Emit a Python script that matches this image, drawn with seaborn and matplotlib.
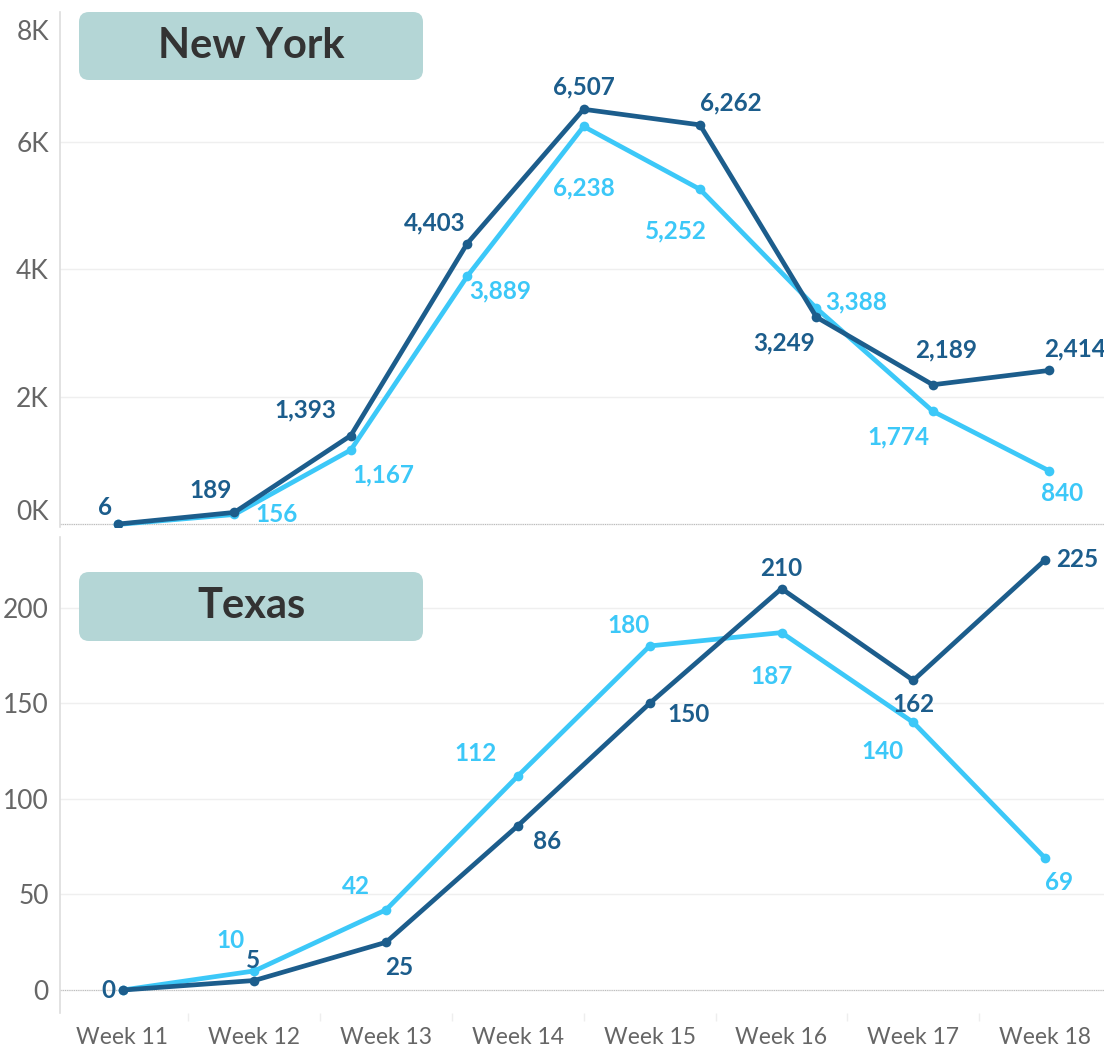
import numpy as np
import pandas as pd
import matplotlib.pyplot as plt
import matplotlib.transforms as mtransforms
import seaborn as sns
from matplotlib.patches import FancyBboxPatch
from matplotlib.ticker import FuncFormatter

# New York panel has 9 points (no week labels shown on that axis)
ny_idx = [0, 1, 2, 3, 4, 5, 6, 7, 8]
ny_dark = [6, 189, 1393, 4403, 6507, 6262, 3249, 2189, 2414]
ny_light = [0, 156, 1167, 3889, 6238, 5252, 3388, 1774, 840]

weeks = ['Week 11', 'Week 12', 'Week 13', 'Week 14', 'Week 15', 'Week 16', 'Week 17', 'Week 18']
tx_dark = [0, 5, 25, 86, 150, 210, 162, 225]
tx_light = [0, 10, 42, 112, 180, 187, 140, 69]

DARK = '#1c5d8c'
LIGHT = '#3cc8f8'

# label offsets in pixels (dx, dy up) and alignment per point
ny_dark_off = [(-6, 5, 'right', 'bottom'), (-24, 10, 'center', 'bottom'), (-15, 14, 'right', 'bottom'),
               (-2, 9, 'right', 'bottom'), (0, 11, 'center', 'bottom'), (0, 10, 'left', 'bottom'),
               (-1, -14, 'right', 'top'), (13, 23, 'center', 'bottom'), (26, 10, 'center', 'bottom')]
ny_light_off = [None, (21, 0, 'left', 'center'), (2, -13, 'left', 'top'), (2, -3, 'left', 'top'),
                (0, -50, 'center', 'top'), (-24, -30, 'center', 'top'), (9, 6, 'left', 'center'),
                (-3, -14, 'right', 'top'), (13, -11, 'center', 'top')]
tx_dark_off = [(-7, 0, 'right', 'center'), (-1, 9, 'center', 'bottom'), (-1, -14, 'left', 'top'),
               (15, -4, 'left', 'top'), (18, 0, 'left', 'top'), (0, 9, 'center', 'bottom'),
               (0, -13, 'center', 'top'), (11, 0, 'left', 'center')]
tx_light_off = [None, (-10, 19, 'right', 'bottom'), (-16, 12, 'right', 'bottom'), (-21, 11, 'right', 'bottom'),
                (-21, 9, 'center', 'bottom'), (-10, -32, 'center', 'top'), (-10, -18, 'right', 'top'),
                (14, -13, 'center', 'top')]

sns.set_style('white')
plt.rcParams['font.family'] = ['Lato', 'DejaVu Sans']

fig = plt.figure(figsize=(11.04, 10.49), dpi=100)
ax1 = fig.add_axes([60 / 1104, 1 - 527 / 1049, 1 - 60 / 1104, (527 - 12) / 1049])
ax2 = fig.add_axes([60 / 1104, 1 - 1013 / 1049, 1 - 60 / 1104, (1013 - 537) / 1049])

PX = 0.72  # points per pixel at 100 dpi


def draw(ax, x, dark, light, doff, loff, fmt):
    df = pd.DataFrame({'x': list(x) * 2, 'y': list(light) + list(dark),
                       'series': ['light'] * len(x) + ['dark'] * len(x)})
    sns.lineplot(data=df, x='x', y='y', hue='series', palette={'dark': DARK, 'light': LIGHT},
                 hue_order=['light', 'dark'], marker='o', markersize=7, markeredgewidth=0,
                 linewidth=3.4, ax=ax, legend=False, zorder=3)
    for vals, offs, col in [(light, loff, LIGHT), (dark, doff, DARK)]:
        for xi, v, o in zip(x, vals, offs):
            if o is None:
                continue
            ax.annotate(fmt(v), (xi, v), xytext=(o[0] * PX, o[1] * PX), textcoords='offset points',
                        ha=o[2], va=o[3], color=col, fontsize=17.5, fontweight='bold', zorder=5)
    ax.grid(axis='y', color='#efefef', linewidth=1)
    ax.grid(axis='x', visible=False)
    ax.axhline(0, color='#bbbbbb', linestyle=(0, (1, 1)), linewidth=0.8, zorder=2)
    for s in ['top', 'right', 'bottom']:
        ax.spines[s].set_visible(False)
    ax.spines['left'].set_color('#dddddd')
    ax.spines['left'].set_linewidth(1.2)
    ax.tick_params(axis='y', labelsize=19, labelcolor='#666666', length=0, pad=8)
    ax.set_xlabel('')
    ax.set_ylabel('')


def label_box(text, y0, y1):
    box = FancyBboxPatch((79, 1049 - y1), 344, y1 - y0, boxstyle='round,pad=0,rounding_size=10',
                         transform=None, facecolor='#b4d6d6', edgecolor='none', zorder=4)
    fig.patches.append(box)
    fig.text(251 / 1104, 1 - (y0 + y1) / 2 / 1049, text, ha='center', va='center',
             fontsize=30, fontweight='bold', color='#333333', zorder=6)


comma = lambda v: f'{v:,}'

draw(ax1, ny_idx, ny_dark, ny_light, ny_dark_off, ny_light_off, comma)
ax1.set_xlim(-58 / 116.4, (1104 - 118) / 116.4)
ax1.set_ylim(-40, 8000 * (526 - 12) / 512)
ax1.set_yticks([0, 2000, 4000, 6000, 8000])
ax1.yaxis.set_major_formatter(FuncFormatter(lambda v, p: f'{int(v / 1000)}K'))
ax1.set_xticks([])
# edge labels pushed inward like the original
ax1.get_ygridlines()[-1].set_visible(False)
fig.canvas.draw()
tl = ax1.get_yticklabels()
tl[0].set_transform(tl[0].get_transform() + mtransforms.ScaledTranslation(0, 14 / 100, fig.dpi_scale_trans))
tl[-1].set_transform(tl[-1].get_transform() + mtransforms.ScaledTranslation(0, -16 / 100, fig.dpi_scale_trans))

tx_x = np.arange(len(weeks))
draw(ax2, tx_x, tx_dark, tx_light, tx_dark_off, tx_light_off, comma)
ax2.set_xlim(-62.5 / 131.8, (1104 - 122.5) / 131.8)
ax2.set_ylim(-12, 237)
ax2.set_yticks([0, 50, 100, 150, 200])
ax2.set_xticks(tx_x)
ax2.set_xticklabels(weeks)
ax2.set_xticks(tx_x[:-1] + 0.5, minor=True)
ax2.tick_params(axis='x', which='major', labelsize=16.5, labelcolor='#666666', length=0, pad=10)
ax2.tick_params(axis='x', which='minor', length=6, color='#eeeeee', width=1, bottom=True)

label_box('New York', 12, 80)
label_box('Texas', 572, 641)

fig.savefig('out.png', dpi=100)
